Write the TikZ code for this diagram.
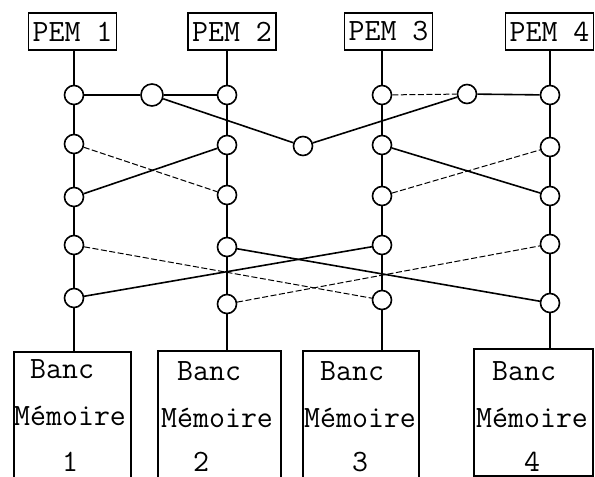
\documentclass[tikz,border=0pt]{standalone}
\usepackage{fontspec}
\begin{document}
\begin{tikzpicture}[x=1pt,y=-1pt,
  txtfont/.style={font=\ttfamily\fontsize{31}{37}\selectfont},
  pem/.style={draw, line width=1.5pt, minimum width=88pt, minimum height=37pt, inner sep=0pt, txtfont},
  bank/.style={draw, line width=2pt, minimum height=150pt, inner sep=0pt, anchor=north west},
  lbl/.style={anchor=base west, inner sep=0pt, txtfont},
  sw/.style={circle, draw, fill=white, line width=1.6pt, minimum size=19pt, inner sep=0pt,
    path picture={\fill (path picture bounding box.center) circle (1.1pt);}},
  bus/.style={line width=2.2pt},
  link/.style={line width=1.6pt},
  faint/.style={line width=1pt, dash pattern=on 6pt off 2.5pt}
]
\useasboundingbox (0,0) rectangle (595,477);
\clip (0,0) rectangle (595,477);

% processors
\node[pem] (p1) at (72.5,31.5) {PEM 1};
\node[pem] (p2) at (232,31.5) {PEM 2};
\node[pem] (p3) at (388.5,31.5) {PEM 3};
\node[pem] (p4) at (549.5,31.5) {PEM 4};

% memory banks
\node[bank, minimum width=117pt] (b1) at (13,351) {};
\node[bank, minimum width=123pt] (b2) at (157,350) {};
\node[bank, minimum width=116pt] (b3) at (302,350) {};
\node[bank, minimum width=119pt, minimum height=127pt] (b4) at (473,348) {};

\node[lbl] (b1a) at (14,378) {\hphantom{0}Banc};
\node[lbl] (b1b) at (14,425) {Mémoire};
\node[lbl] (b1c) at (14,471) {\hphantom{000}1};
\node[lbl] (b2a) at (161,380) {\hphantom{0}Banc};
\node[lbl] (b2b) at (161,427) {Mémoire};
\node[lbl] (b2c) at (161,471) {\hphantom{00}2};
\node[lbl] (b3a) at (304,380) {\hphantom{0}Banc};
\node[lbl] (b3b) at (304,427) {Mémoire};
\node[lbl] (b3c) at (304,471) {\hphantom{000}3};
\node[lbl] (b4a) at (476,380) {\hphantom{0}Banc};
\node[lbl] (b4b) at (476,427) {Mémoire};
\node[lbl] (b4c) at (476,471) {\hphantom{000}4};

% switch points
\node[sw] (c11) at (74,95) {};
\node[sw] (c12) at (74,144) {};
\node[sw] (c13) at (74,197) {};
\node[sw] (c14) at (74,245) {};
\node[sw] (c15) at (74,298) {};
\node[sw] (c21) at (227,95) {};
\node[sw] (c22) at (227,145) {};
\node[sw] (c23) at (227,195) {};
\node[sw] (c24) at (227,247) {};
\node[sw] (c25) at (227,304) {};
\node[sw] (c31) at (382,95) {};
\node[sw] (c32) at (382,145) {};
\node[sw] (c33) at (382,196) {};
\node[sw] (c34) at (382,245) {};
\node[sw] (c35) at (382,300) {};
\node[sw] (c41) at (550,95) {};
\node[sw] (c42) at (550,147) {};
\node[sw] (c43) at (550,196) {};
\node[sw] (c44) at (550,244) {};
\node[sw] (c45) at (550,303) {};
\node[sw, minimum size=22pt] (m1) at (152,95) {};
\node[sw] (m2) at (303,146) {};
\node[sw] (m3) at (467,94) {};

% vertical buses
\draw[bus] (c11 |- p1.south) -- (c11) -- (c12) -- (c13) -- (c14) -- (c15) -- (c15 |- b1.north);
\draw[bus] (c21 |- p2.south) -- (c21) -- (c22) -- (c23) -- (c24) -- (c25) -- (c25 |- b2.north);
\draw[bus] (c31 |- p3.south) -- (c31) -- (c32) -- (c33) -- (c34) -- (c35) -- (c35 |- b3.north);
\draw[bus] (c41 |- p4.south) -- (c41) -- (c42) -- (c43) -- (c44) -- (c45) -- (c45 |- b4.north);

% first level
\draw[link] (c11) -- (m1);
\draw[link] (m1) -- (c21);
\draw[link] (m1) -- (m2);
\draw[link] (m2) -- (m3);
\draw[faint] (c31) -- (m3);
\draw[link] (m3) -- (c41);

% second level
\draw[faint] (c12) -- (c23);
\draw[link] (c13) -- (c22);
\draw[link] (c32) -- (c43);
\draw[faint] (c33) -- (c42);

% third level
\draw[faint] (c14) -- (c35);
\draw[link] (c15) -- (c34);
\draw[link] (c24) -- (c45);
\draw[faint] (c25) -- (c44);
\end{tikzpicture}
\end{document}
